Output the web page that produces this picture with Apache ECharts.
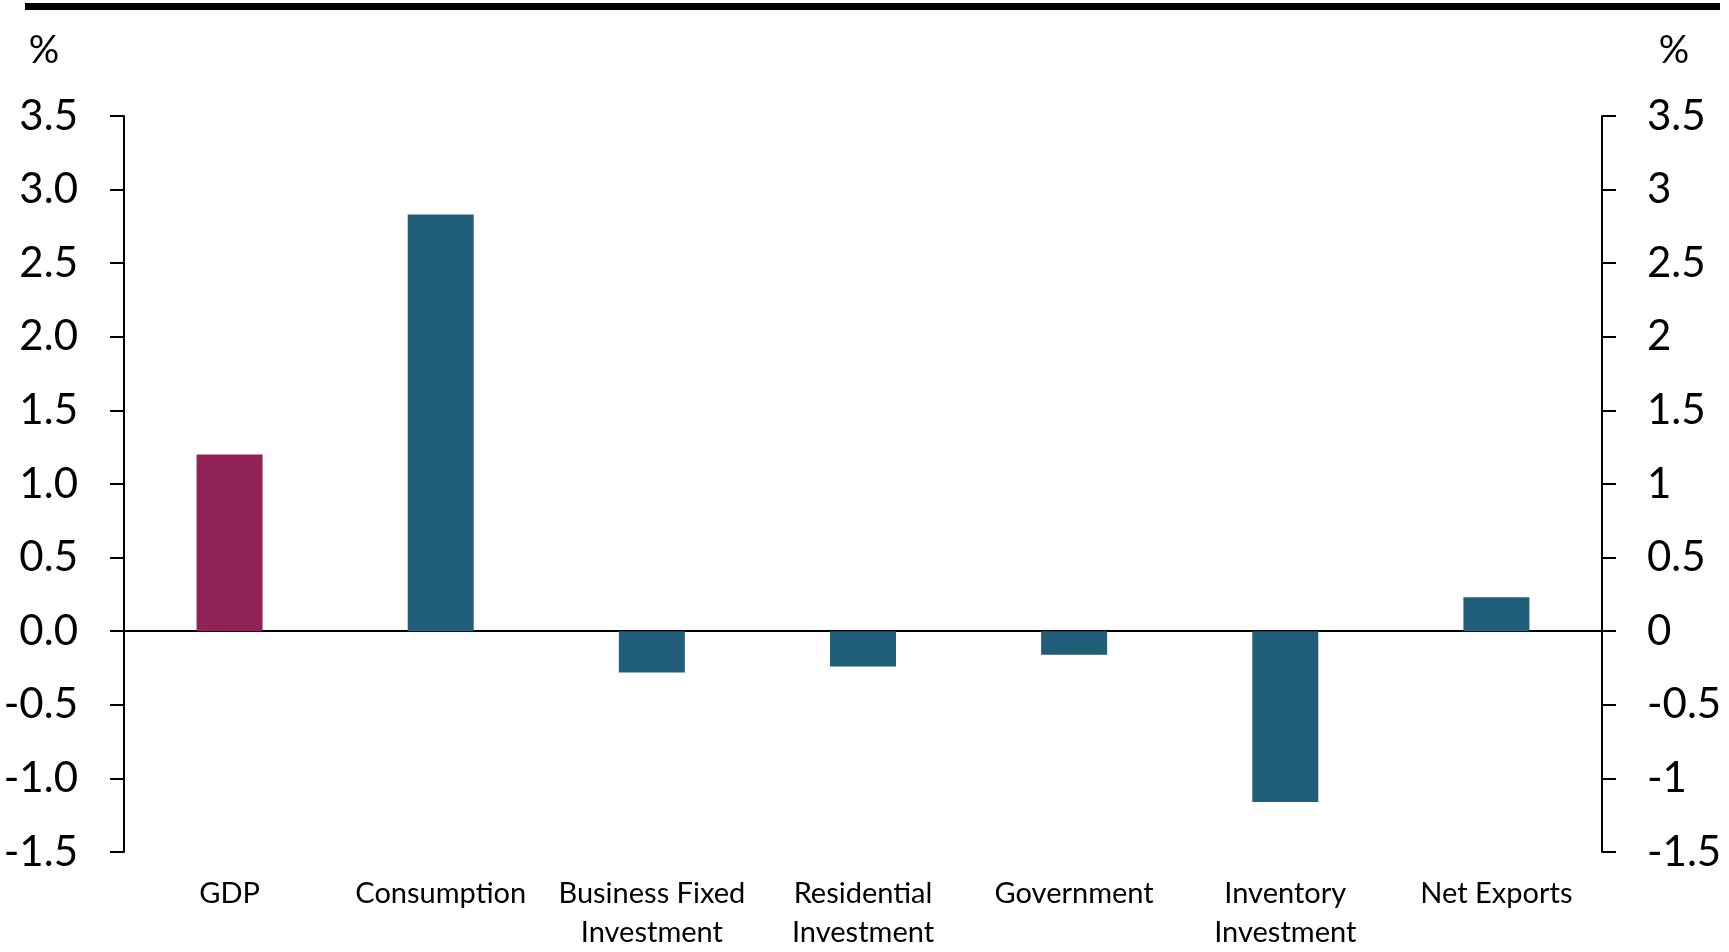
<!DOCTYPE html>
<html>
<head>
<meta charset="utf-8">
<script src="https://cdn.jsdelivr.net/npm/echarts@6/dist/echarts.min.js"></script>
<style>
  html, body { margin: 0; padding: 0; background: #fff; }
  #chart { width: 1729px; height: 952px; }
</style>
</head>
<body>
<div id="chart"></div>
<script>
  // contributions to growth, % pts
  const categories = ['GDP', 'Consumption', 'Business Fixed\nInvestment', 'Residential\nInvestment',
    'Government', 'Inventory\nInvestment', 'Net Exports']
  const values = [1.2, 2.83, -0.28, -0.24, -0.16, -1.16, 0.23]
  const axisMin = -1.5
  const axisMax = 3.5
  const axisStep = 0.5

  const gdpColor = '#922357'
  const partColor = '#215e79'
  const font = 'Lato'

  const chart = echarts.init(document.getElementById('chart'))

  const yAxisBase = {
    type: 'value',
    min: axisMin,
    max: axisMax,
    interval: axisStep,
    splitLine: { show: false },
    axisLine: { show: true, lineStyle: { color: '#000', width: 2 } },
    axisTick: { show: true, length: 14, lineStyle: { color: '#000', width: 2 } }
  }

  chart.setOption({
    animation: false,
    grid: { left: 124, right: 127, top: 116, bottom: 99 },
    graphic: [
      { type: 'rect', shape: { x: 25, y: 3, width: 1695, height: 7 }, style: { fill: '#000' } },
      { type: 'text', x: 44, y: 51, style: { text: '%', font: '38px ' + font, fill: '#000', align: 'center', verticalAlign: 'middle' } },
      { type: 'text', x: 1674, y: 51, style: { text: '%', font: '38px ' + font, fill: '#000', align: 'center', verticalAlign: 'middle' } }
    ],
    xAxis: {
      type: 'category',
      data: categories,
      axisTick: { show: false },
      axisLine: { onZero: true, lineStyle: { color: '#000', width: 2 } },
      axisLabel: {
        interval: 0,
        margin: 22,
        color: '#000',
        fontFamily: font,
        fontSize: 29,
        lineHeight: 39
      }
    },
    yAxis: [
      Object.assign({}, yAxisBase, {
        position: 'left',
        axisLabel: {
          margin: 46,
          color: '#000',
          fontFamily: font,
          fontSize: 42,
          formatter: function (v) { return v.toFixed(1) }
        }
      }),
      Object.assign({}, yAxisBase, {
        position: 'right',
        axisLabel: {
          margin: 45,
          color: '#000',
          fontFamily: font,
          fontSize: 42
        }
      })
    ],
    series: [{
      type: 'bar',
      barWidth: 66,
      data: values.map((v, i) => ({
        value: v,
        itemStyle: { color: i === 0 ? gdpColor : partColor }
      }))
    }]
  })
</script>
</body>
</html>
